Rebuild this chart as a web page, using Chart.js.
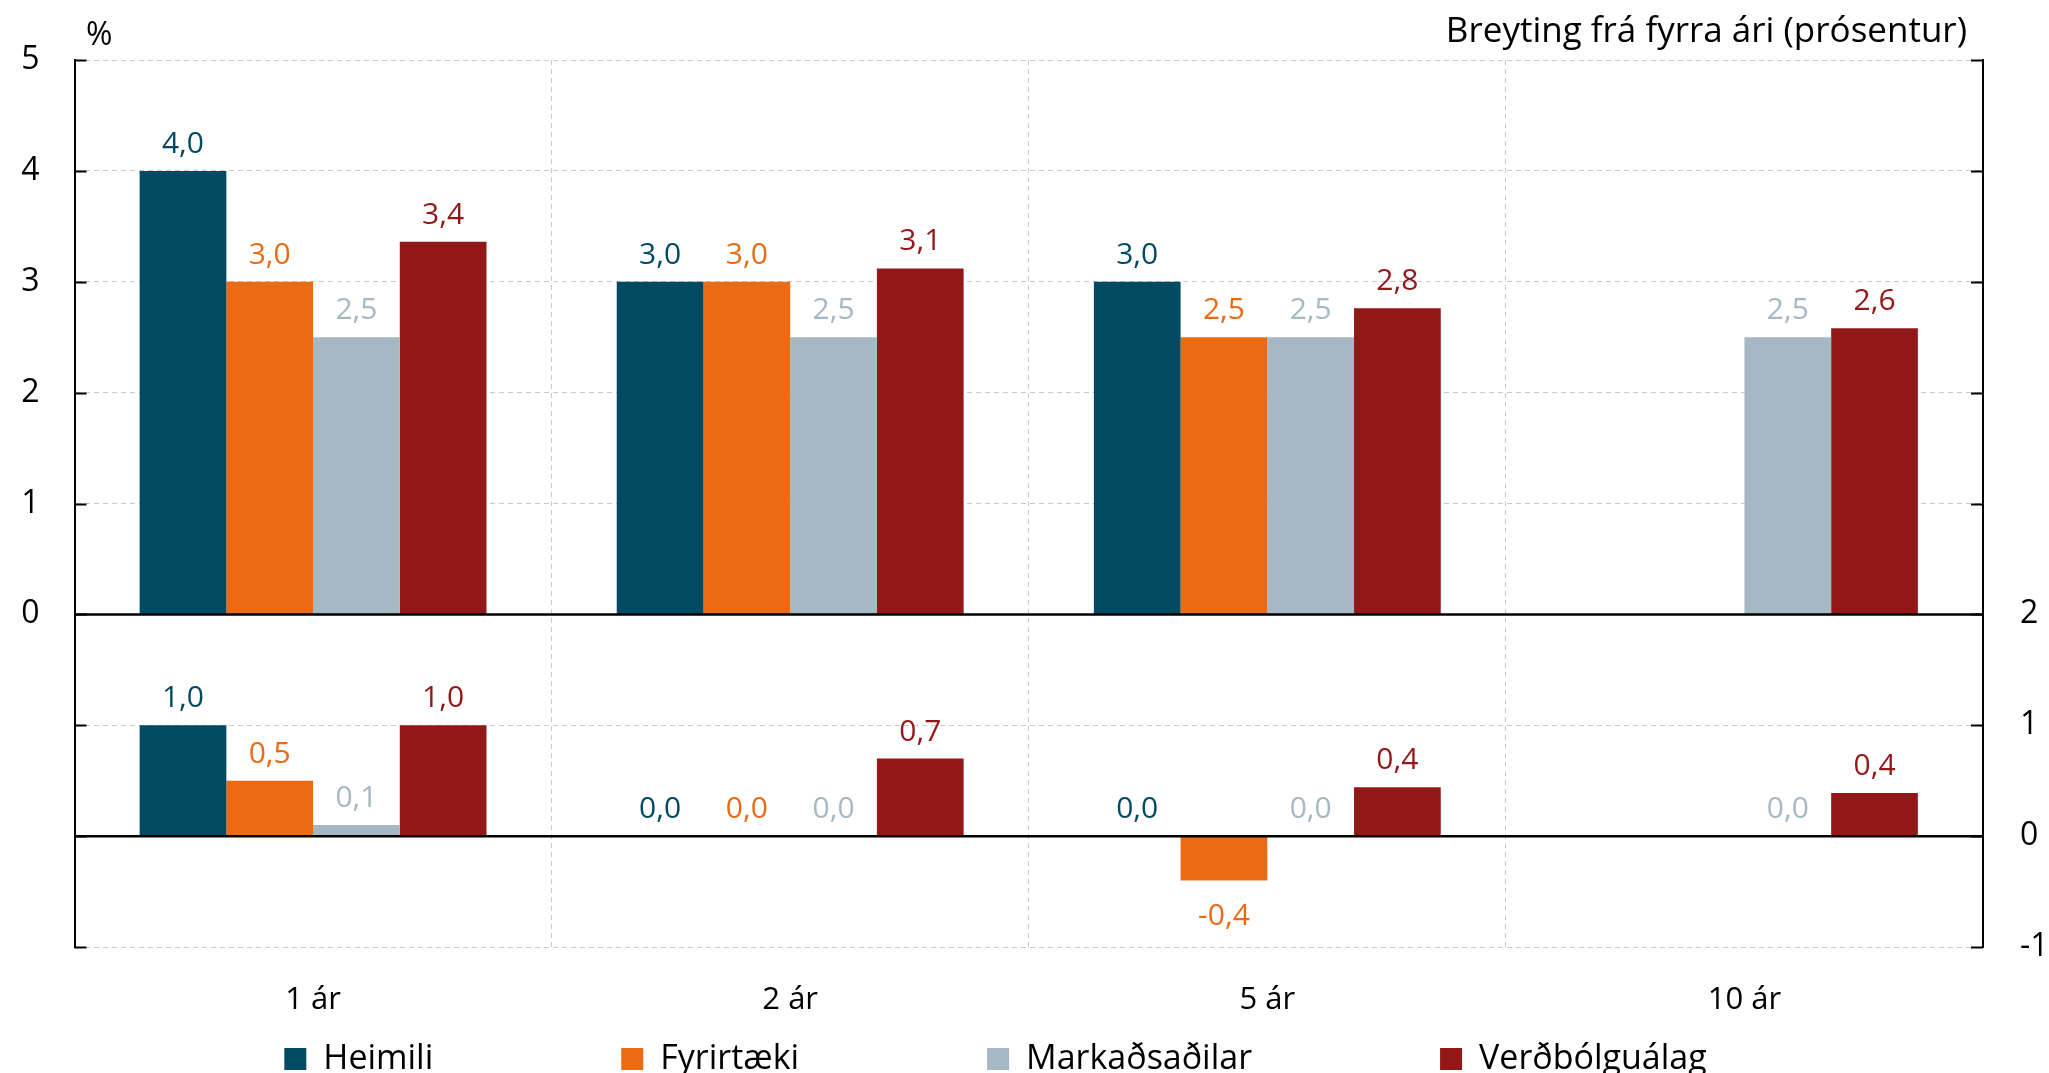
<!DOCTYPE html>
<html>
<head>
<meta charset="utf-8">
<script src="https://cdn.jsdelivr.net/npm/chart.js@4.4.0/dist/chart.umd.min.js"></script>
<style>
html,body{margin:0;padding:0;background:#ffffff;overflow:hidden}
#wrap{width:2049px;height:1073px;position:relative}
</style>
</head>
<body>
<div id="wrap"><canvas id="c"></canvas></div>
<script>
// ---------- DATA ----------
const categories = ['1 ár', '2 ár', '5 ár', '10 ár'];
const seriesNames = ['Heimili', 'Fyrirtæki', 'Markaðsaðilar', 'Verðbólguálag'];

// Upper panel: inflation expectations (%)
const heimiliLevel       = [4.0, 3.0, 3.0, null];
const fyrirtaekiLevel    = [3.0, 3.0, 2.5, null];
const markadsadilarLevel = [2.5, 2.5, 2.5, 2.5];
const verdbolgualagLevel = [3.36, 3.12, 2.76, 2.58];

// Lower panel: change from previous year (percentage points)
const heimiliChange       = [1.0, 0.0, 0.0, null];
const fyrirtaekiChange    = [0.5, 0.0, -0.4, null];
const markadsadilarChange = [0.1, 0.0, 0.0, 0.0];
const verdbolgualagChange = [1.0, 0.7, 0.44, 0.39];

const leftTickLabels  = ['0', '1', '2', '3', '4', '5'];
const rightTickLabels = ['-1', '0', '1', '2'];
const titleLeft  = '%';
const titleRight = 'Breyting frá fyrra ári (prósentur)';

// ---------- STYLE ----------
const FONT = "'Open Sans', 'DejaVu Sans', sans-serif";
const colors = ['#004a63', '#eb6a14', '#a6b8c3', '#921818'];
const GRID_COLOR = '#c9c9c9';
const TOP_MIN = Number(leftTickLabels[0]), TOP_MAX = Number(leftTickLabels[leftTickLabels.length - 1]);
const BOT_MIN = Number(rightTickLabels[0]), BOT_MAX = Number(rightTickLabels[rightTickLabels.length - 1]);
const LEGEND_GAP = 188;
const LEGEND_FONT = 34;
const LEGEND_TEXT_Y = 1059;
const LEGEND_SHIFT_X = -29;

const levels = [heimiliLevel, fyrirtaekiLevel, markadsadilarLevel, verdbolgualagLevel];
const changes = [heimiliChange, fyrirtaekiChange, markadsadilarChange, verdbolgualagChange];

const datasets = [];
levels.forEach((arr, i) => datasets.push({
  label: seriesNames[i], data: arr, backgroundColor: colors[i], borderWidth: 0,
  xAxisID: 'x', yAxisID: 'yTop', stack: 's' + i, labelColor: colors[i]
}));
changes.forEach((arr, i) => datasets.push({
  label: seriesNames[i] + ' (breyting)', data: arr, backgroundColor: colors[i], borderWidth: 0,
  xAxisID: 'x', yAxisID: 'yBot', stack: 's' + i, labelColor: colors[i]
}));

// ---------- PLUGINS ----------
const panelLines = {
  id: 'panelLines',
  afterDatasetsDraw(chart) {
    const {ctx, chartArea: a} = chart;
    const yTop = chart.scales.yTop, yBot = chart.scales.yBot;
    ctx.save();
    ctx.strokeStyle = '#000';
    ctx.lineWidth = 2;
    for (let v = yBot.min; v <= yBot.max; v++) {
      const py = Math.round(yBot.getPixelForValue(v)) + 0.5;
      ctx.beginPath();
      ctx.moveTo(a.left, py); ctx.lineTo(a.left + 12, py);
      ctx.moveTo(a.right, py); ctx.lineTo(a.right - 12, py);
      ctx.stroke();
    }
    ctx.lineWidth = 2.5;
    [yTop.getPixelForValue(0), yBot.getPixelForValue(0)].forEach(py => {
      ctx.beginPath();
      ctx.moveTo(a.left, py); ctx.lineTo(a.right, py);
      ctx.stroke();
    });
    ctx.restore();
  }
};

const valueLabels = {
  id: 'valueLabels',
  afterDraw(chart) {
    const ctx = chart.ctx;
    ctx.save();
    ctx.font = '30px ' + FONT;
    ctx.textAlign = 'center';
    ctx.textBaseline = 'alphabetic';
    chart.data.datasets.forEach((ds, di) => {
      const meta = chart.getDatasetMeta(di);
      meta.data.forEach((el, i) => {
        const v = ds.data[i];
        if (v === null || v === undefined) return;
        let txt = v.toFixed(1).replace('.', ',');
        if (txt === '-0,0') txt = '0,0';
        ctx.fillStyle = ds.labelColor;
        const y = v >= 0 ? el.y - 18 : el.y + 45;
        ctx.fillText(txt, el.x, y);
      });
    });
    ctx.restore();
  }
};

const headerTexts = {
  id: 'headerTexts',
  afterDraw(chart) {
    const ctx = chart.ctx;
    ctx.save();
    ctx.fillStyle = '#000';
    ctx.textBaseline = 'alphabetic';
    ctx.font = '32px ' + FONT;
    ctx.textAlign = 'left';
    ctx.fillText(titleLeft, 86, 45);
    ctx.font = '35px ' + FONT;
    ctx.textAlign = 'right';
    ctx.fillText(titleRight, 1967, 42);
    ctx.restore();
  }
};

const legendPlacer = {
  id: 'legendPlacer',
  afterLayout(chart) {
    const lg = chart.legend;
    if (!lg) return;
    const itemH = Math.max(LEGEND_FONT, 22);
    lg.top = LEGEND_TEXT_Y - LEGEND_GAP - itemH / 2;
    lg.left += LEGEND_SHIFT_X;
    lg.right += LEGEND_SHIFT_X;
  }
};

// ---------- CHART ----------
const dash = [5, 4];
new Chart(document.getElementById('c'), {
  type: 'bar',
  data: { labels: categories, datasets },
  plugins: [panelLines, valueLabels, headerTexts, legendPlacer],
  options: {
    responsive: true,
    maintainAspectRatio: false,
    animation: false,
    layout: { padding: { top: 60, left: 0, right: 0, bottom: 0 } },
    datasets: { bar: { categoryPercentage: 0.727, barPercentage: 1.0 } },
    plugins: {
      tooltip: { enabled: false },
      title: { display: false },
      legend: {
        position: 'bottom',
        maxHeight: 40,
        labels: {
          boxWidth: 22, boxHeight: 22, padding: LEGEND_GAP, color: '#000',
          font: { family: FONT, size: LEGEND_FONT },
          filter: item => item.datasetIndex < seriesNames.length
        }
      }
    },
    scales: {
      x: {
        type: 'category',
        offset: true,
        grid: { display: true, offset: true, color: GRID_COLOR, lineWidth: 1, drawTicks: false },
        border: { display: false, dash: dash },
        ticks: { color: '#000', font: { family: FONT, size: 31 }, padding: 35, maxRotation: 0 },
        afterFit(s) { s.height = 86; }
      },
      yTop: {
        type: 'linear', position: 'left', stacked: false,
        min: TOP_MIN - (BOT_MAX - BOT_MIN), max: TOP_MAX,
        grid: { color: GRID_COLOR, lineWidth: 1, drawTicks: false },
        border: { display: true, color: '#000', width: 2, dash: dash },
        ticks: {
          stepSize: 1, color: '#000', padding: 35, font: { family: FONT, size: 32 },
          callback: v => leftTickLabels.includes(String(v)) ? String(v) : ''
        },
        afterFit(s) { s.width = 74.5; }
      },
      yBot: {
        type: 'linear', position: 'right', stacked: false,
        min: BOT_MIN, max: BOT_MAX + (TOP_MAX - TOP_MIN),
        grid: { display: false, drawTicks: false },
        border: { display: true, color: '#000', width: 2 },
        ticks: {
          stepSize: 1, color: '#000', padding: 37, font: { family: FONT, size: 32 },
          callback: v => rightTickLabels.includes(String(v)) ? String(v) : ''
        },
        afterFit(s) { s.width = 66; }
      }
    }
  }
});
</script>
</body>
</html>
